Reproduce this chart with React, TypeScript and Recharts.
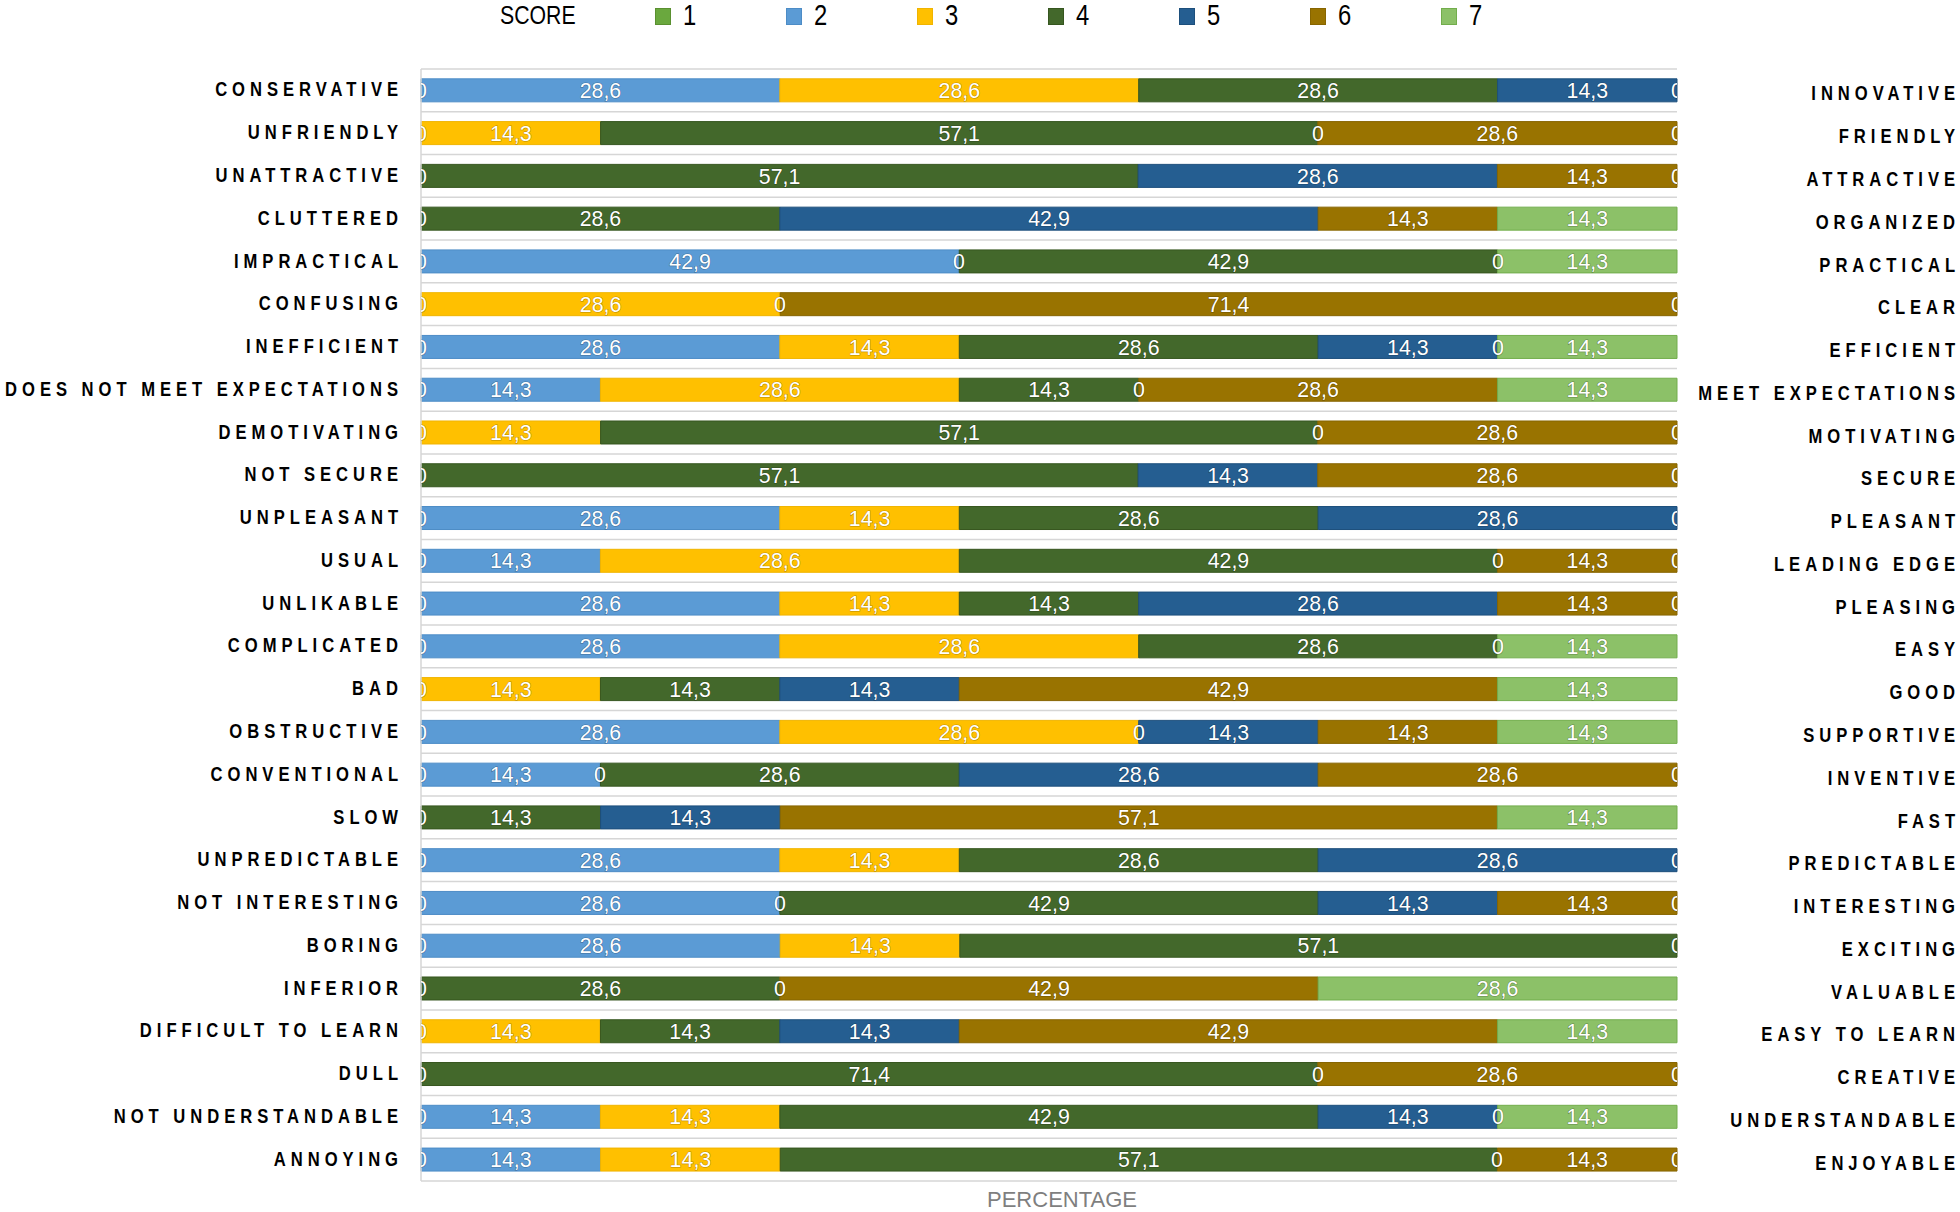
import { BarChart, Bar, XAxis, YAxis, CartesianGrid, LabelList } from "recharts";

const LEFT_LABELS = [
  "CONSERVATIVE", "UNFRIENDLY", "UNATTRACTIVE", "CLUTTERED", "IMPRACTICAL", "CONFUSING",
  "INEFFICIENT", "DOES NOT MEET EXPECTATIONS", "DEMOTIVATING", "NOT SECURE", "UNPLEASANT",
  "USUAL", "UNLIKABLE", "COMPLICATED", "BAD", "OBSTRUCTIVE", "CONVENTIONAL", "SLOW",
  "UNPREDICTABLE", "NOT INTERESTING", "BORING", "INFERIOR", "DIFFICULT TO LEARN", "DULL",
  "NOT UNDERSTANDABLE", "ANNOYING",
];

const RIGHT_LABELS = [
  "INNOVATIVE", "FRIENDLY", "ATTRACTIVE", "ORGANIZED", "PRACTICAL", "CLEAR",
  "EFFICIENT", "MEET EXPECTATIONS", "MOTIVATING", "SECURE", "PLEASANT",
  "LEADING EDGE", "PLEASING", "EASY", "GOOD", "SUPPORTIVE", "INVENTIVE", "FAST",
  "PREDICTABLE", "INTERESTING", "EXCITING", "VALUABLE", "EASY TO LEARN", "CREATIVE",
  "UNDERSTANDABLE", "ENJOYABLE",
];

// percentage of answers per score, one entry per row (top to bottom)
const SCORE_1 = [0, 0, 0, 0, 0, 0, 0, 0, 0, 0, 0, 0, 0, 0, 0, 0, 0, 0, 0, 0, 0, 0, 0, 0, 0, 0];
const SCORE_2 = [28.6, 0, 0, 0, 42.9, 0, 28.6, 14.3, 0, 0, 28.6, 14.3, 28.6, 28.6, 0, 28.6, 14.3, 0, 28.6, 28.6, 28.6, 0, 0, 0, 14.3, 14.3];
const SCORE_3 = [28.6, 14.3, 0, 0, 0, 28.6, 14.3, 28.6, 14.3, 0, 14.3, 28.6, 14.3, 28.6, 14.3, 28.6, 0, 0, 14.3, 0, 14.3, 0, 14.3, 0, 14.3, 14.3];
const SCORE_4 = [28.6, 57.1, 57.1, 28.6, 42.9, 0, 28.6, 14.3, 57.1, 57.1, 28.6, 42.9, 14.3, 28.6, 14.3, 0, 28.6, 14.3, 28.6, 42.9, 57.1, 28.6, 14.3, 71.4, 42.9, 57.1];
const SCORE_5 = [14.3, 0, 28.6, 42.9, 0, 0, 14.3, 0, 0, 14.3, 28.6, 0, 28.6, 0, 14.3, 14.3, 28.6, 14.3, 28.6, 14.3, 0, 0, 14.3, 0, 14.3, 0];
const SCORE_6 = [0, 28.6, 14.3, 14.3, 0, 71.4, 0, 28.6, 28.6, 28.6, 0, 14.3, 14.3, 0, 42.9, 14.3, 28.6, 57.1, 0, 14.3, 0, 42.9, 42.9, 28.6, 0, 14.3];
const SCORE_7 = [0, 0, 0, 14.3, 14.3, 0, 14.3, 14.3, 0, 0, 0, 0, 0, 14.3, 14.3, 14.3, 0, 14.3, 0, 0, 0, 28.6, 14.3, 0, 14.3, 0];

const SCORES = ["1", "2", "3", "4", "5", "6", "7"];
const FILLS = ["#6aa83e", "#5b9bd5", "#ffc000", "#43682b", "#255e91", "#997300", "#8cc168"];
const STROKES = ["#5a9030", "#4d8cc6", "#f0b400", "#36561f", "#1d4f7c", "#876500", "#72ad4c"];
const KEYS = ["s1", "s2", "s3", "s4", "s5", "s6", "s7"];

const data = LEFT_LABELS.map((left, i) => ({
  row: i,
  left,
  right: RIGHT_LABELS[i],
  s1: SCORE_1[i],
  s2: SCORE_2[i],
  s3: SCORE_3[i],
  s4: SCORE_4[i],
  s5: SCORE_5[i],
  s6: SCORE_6[i],
  s7: SCORE_7[i],
}));

const W = 1960;
const H = 1212;
const LEFT_AXIS_W = 421;
const RIGHT_AXIS_W = 283;
const TOP = 69;

const sans = "'Liberation Sans', Arial, sans-serif";

const fmt = (v: number) => String(v).replace(".", ",");

function SegText({ cx, cy, text }: { cx: number; cy: number; text: string }) {
  return (
    <g clipPath="url(#plot-clip)">
      <text
        transform={`translate(${cx},${cy}) scale(0.95,1)`}
        textAnchor="middle"
        dominantBaseline="central"
        fill="#fff"
        stroke="rgba(0,0,0,0.3)"
        strokeWidth={1.2}
        paintOrder="stroke"
        fontFamily={sans}
        fontSize={22.5}
      >
        {text}
      </text>
    </g>
  );
}

// value = row index; the last non-zero segment of a row also places the "0" labels
function SegmentLabel(props: any) {
  const vb = props.viewBox ?? props;
  const row: any = data[Number(props.value)];
  if (!row || !vb) return null;
  const series: number = props.series;
  const vals = KEYS.map((k) => row[k] as number);
  const v = vals[series];
  if (!v) return null;
  const { x, y, width, height } = vb;
  const cy = y + height / 2;
  const out = [<SegText key="v" cx={x + width / 2} cy={cy} text={fmt(v)} />];
  let last = 0;
  vals.forEach((val, j) => {
    if (val > 0) last = j;
  });
  if (series === last) {
    const pxPerUnit = width / v;
    const before = vals.slice(0, series).reduce((a, b) => a + b, 0);
    const origin = x - before * pxPerUnit;
    const seen = new Set<number>();
    let cum = 0;
    vals.forEach((val, j) => {
      if (val === 0) {
        const px = Math.round(origin + cum * pxPerUnit);
        if (!seen.has(px)) {
          seen.add(px);
          out.push(<SegText key={`z${j}`} cx={px} cy={cy} text="0" />);
        }
      }
      cum += val;
    });
  }
  return <g>{out}</g>;
}

function AxisText({ x, y, text }: { x: number; y: number; text: string }) {
  return (
    <text
      transform={`translate(${x},${y}) scale(0.83,1)`}
      textAnchor="end"
      dominantBaseline="central"
      fill="#000"
      fontFamily={sans}
      fontWeight={700}
      fontSize={20}
      letterSpacing={6}
    >
      {text}
    </text>
  );
}

function LeftTick({ y, payload }: any) {
  return <AxisText x={LEFT_AXIS_W - 18} y={y - 1} text={payload.value} />;
}

function RightTick({ y, payload }: any) {
  return <AxisText x={W} y={y + 3} text={payload.value} />;
}

function Legend() {
  return (
    <div
      style={{
        position: "absolute",
        left: 500,
        top: 0,
        height: 30,
        display: "flex",
        alignItems: "center",
        fontFamily: sans,
        color: "#000",
      }}
    >
      <div style={{ width: 155, fontSize: 25, transform: "scaleX(0.85)", transformOrigin: "left center" }}>
        SCORE
      </div>
      {SCORES.map((s, i) => (
        <div key={s} style={{ width: 131, display: "flex", alignItems: "center" }}>
          <span
            style={{
              width: 14,
              height: 15,
              background: FILLS[i],
              border: `1px solid ${STROKES[i]}`,
              marginRight: 12,
              marginTop: 2,
            }}
          />
          <span style={{ fontSize: 29, display: "inline-block", transform: "scaleX(0.82)", transformOrigin: "left center" }}>
            {s}
          </span>
        </div>
      ))}
    </div>
  );
}

export default function App() {
  return (
    <div style={{ position: "absolute", left: 0, top: 0, width: W, height: H, background: "#fff" }}>
      <svg width={0} height={0} style={{ position: "absolute" }}>
        <defs>
          <clipPath id="plot-clip" clipPathUnits="userSpaceOnUse">
            <rect x={LEFT_AXIS_W} y={0} width={W - LEFT_AXIS_W - RIGHT_AXIS_W} height={H} />
          </clipPath>
        </defs>
      </svg>
      <BarChart
        layout="vertical"
        width={W}
        height={H}
        data={data}
        stackOffset="expand"
        barCategoryGap="23%"
        margin={{ top: TOP, right: 0, bottom: 0, left: 0 }}
      >
        <CartesianGrid
          vertical={false}
          stroke="#d6d6d6"
          strokeWidth={1.5}
          horizontalCoordinatesGenerator={({ offset }: any) =>
            Array.from({ length: data.length + 1 }, (_, i) => offset.top + (i * offset.height) / data.length)
          }
        />
        <XAxis
          type="number"
          domain={[0, 1]}
          tick={false}
          axisLine={false}
          tickLine={false}
          height={31}
          label={{
            value: "PERCENTAGE",
            position: "insideBottom",
            offset: 5,
            dx: 13,
            fill: "#7f7f7f",
            fontSize: 22,
            fontFamily: sans,
          }}
        />
        <YAxis
          yAxisId={0}
          type="category"
          dataKey="left"
          width={LEFT_AXIS_W}
          axisLine={{ stroke: "#d6d6d6", strokeWidth: 1.5 }}
          tickLine={false}
          interval={0}
          tick={<LeftTick />}
        />
        <YAxis
          yAxisId="right"
          orientation="right"
          type="category"
          dataKey="right"
          width={RIGHT_AXIS_W}
          axisLine={false}
          tickLine={false}
          interval={0}
          tick={<RightTick />}
        />
        {SCORES.map((s, i) => (
          <Bar
            key={s}
            dataKey={KEYS[i]}
            stackId="a"
            yAxisId={0}
            fill={FILLS[i]}
            stroke={STROKES[i]}
            strokeWidth={1}
            isAnimationActive={false}
          >
            <LabelList dataKey="row" content={<SegmentLabel series={i} />} />
          </Bar>
        ))}
      </BarChart>
      <Legend />
    </div>
  );
}
